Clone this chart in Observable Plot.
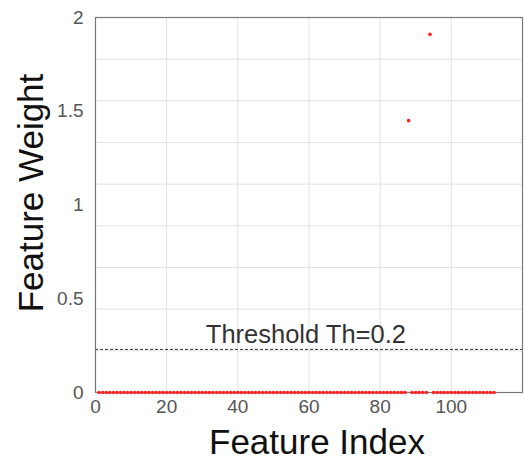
<!DOCTYPE html>
<html>
<head>
<meta charset="utf-8">
<script src="https://cdn.jsdelivr.net/npm/d3@7"></script>
<script src="https://cdn.jsdelivr.net/npm/@observablehq/plot@0.6"></script>
<style>
  html, body { margin: 0; padding: 0; background: #fff; }
</style>
</head>
<body>
<div id="chart"></div>
<script>
// Feature weights for features 1..112
const weights = [
  0, 0, 0, 0, 0, 0, 0, 0, 0, 0,
  0, 0, 0, 0, 0, 0, 0, 0, 0, 0,
  0, 0, 0, 0, 0, 0, 0, 0, 0, 0,
  0, 0, 0, 0, 0, 0, 0, 0, 0, 0,
  0, 0, 0, 0, 0, 0, 0, 0, 0, 0,
  0, 0, 0, 0, 0, 0, 0, 0, 0, 0,
  0, 0, 0, 0, 0, 0, 0, 0, 0, 0,
  0, 0, 0, 0, 0, 0, 0, 0, 0, 0,
  0, 0, 0, 0, 0, 0, 0, 1.45, 0, 0,
  0, 0, 0, 1.91, 0, 0, 0, 0, 0, 0,
  0, 0, 0, 0, 0, 0, 0, 0, 0, 0,
  0, 0
];
const threshold = 0.23;
const thresholdLabel = "Threshold Th=0.2";
const xTicks = [0, 20, 40, 60, 80, 100];
const yTicks = [0, 0.5, 1, 1.5, 2];
const xLabel = "Feature Index";
const yLabel = "Feature Weight";

const data = weights.map((w, i) => ({index: i + 1, weight: w}));
const xGrid = [20, 40, 60, 80, 100];
const yGrid = d3.range(1, 9).map(i => i * 2 / 9);

const chart = Plot.plot({
  width: 525,
  height: 460,
  marginLeft: 95,
  marginRight: 3,
  marginTop: 17,
  marginBottom: 68,
  style: {fontFamily: "'Liberation Sans', Arial, sans-serif", background: "white", color: "#555"},
  x: {domain: [0, 120]},
  y: {domain: [0, 2]},
  marks: [
    Plot.ruleX(xGrid, {stroke: "#e2e2e2", strokeWidth: 1}),
    Plot.ruleY(yGrid, {stroke: "#e2e2e2", strokeWidth: 1}),
    Plot.ruleY([threshold], {stroke: "#333", strokeWidth: 1, strokeDasharray: "3,2"}),
    Plot.frame({stroke: "#777", strokeWidth: 1.2}),
    Plot.axisX(xTicks, {tickSize: 0, tickPadding: 7, fontSize: 19, label: null, tickFormat: d => String(d)}),
    Plot.axisY(yTicks, {tickSize: 0, tickPadding: 12, fontSize: 19, label: null, tickFormat: d => String(d)}),
    Plot.dot(data, {x: "index", y: "weight", r: 1.8, fill: "#ff2020", stroke: "none"}),
    Plot.text([thresholdLabel], {x: 31, y: threshold, text: d => d, textAnchor: "start", lineAnchor: "middle", dy: -15, fontSize: 25.5, fill: "#333"}),
    Plot.text([xLabel], {frameAnchor: "bottom", text: d => d, textAnchor: "middle", lineAnchor: "middle", dx: 8, dy: 50, fontSize: 35, fill: "#111"}),
    Plot.text([yLabel], {frameAnchor: "left", text: d => d, rotate: -90, textAnchor: "middle", lineAnchor: "middle", dx: -64, dy: -12, fontSize: 35, fill: "#111"})
  ]
});
document.getElementById("chart").appendChild(chart);
</script>
</body>
</html>
